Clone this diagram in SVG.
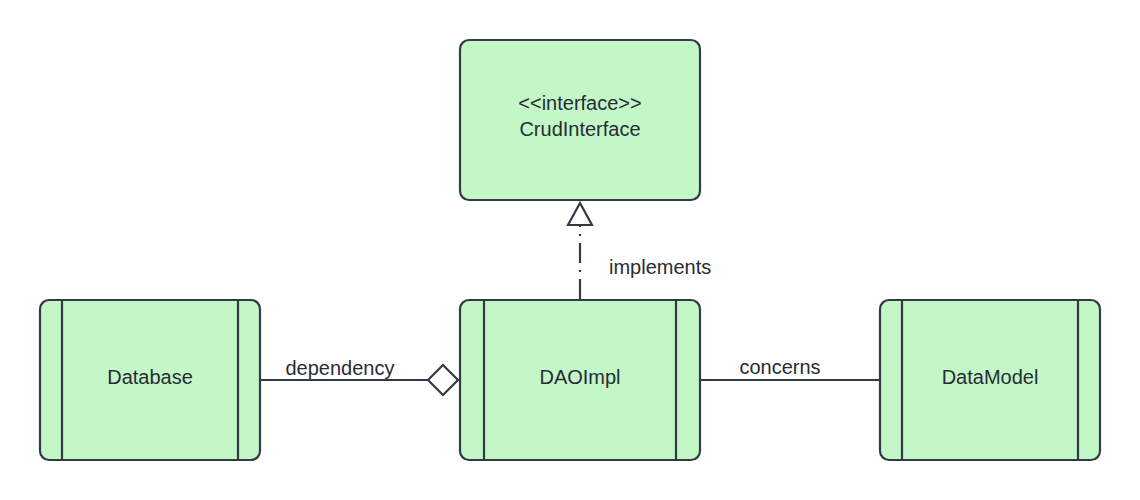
<svg xmlns="http://www.w3.org/2000/svg" width="1140" height="500" viewBox="0 0 1140 500">
<style>
.box{fill:#c3f7c8;stroke:#333a45;stroke-width:2.2}
.bar{stroke:#333a45;stroke-width:2.2;fill:none}
.t{font-family:"Liberation Sans",Arial,sans-serif;font-size:20px;fill:#282c33}
.c{stroke:#333a45;stroke-width:2.2;fill:none}
</style>
<rect width="1140" height="500" fill="#ffffff"/>
<g id="connectors">
<path class="c" d="M261 380H428"/>
<polygon class="c" points="428,380 443,365 458,380 443,395" style="fill:#ffffff"/>
<path class="c" d="M701 380H879"/>
<path class="c" d="M580 299V226" stroke-dasharray="20 7 2 7"/>
<polygon class="c" points="580,203 592,225 568,225" style="fill:#ffffff"/>
<text class="t" x="340" y="375" text-anchor="middle">dependency</text>
<text class="t" x="780" y="374" text-anchor="middle">concerns</text>
<text class="t" x="609" y="274">implements</text>
</g>
<g id="CrudInterface">
<rect class="box" x="460" y="40" width="240" height="160" rx="9"/>
<text class="t" x="580" y="110" text-anchor="middle">&lt;&lt;interface&gt;&gt;</text>
<text class="t" x="580" y="136" text-anchor="middle">CrudInterface</text>
</g>
<g id="Database">
<rect class="box" x="40" y="300" width="220" height="160" rx="9"/>
<path class="bar" d="M62 300V460M238 300V460"/>
<text class="t" x="150" y="384" text-anchor="middle">Database</text>
</g>
<g id="DAOImpl">
<rect class="box" x="460" y="300" width="240" height="160" rx="9"/>
<path class="bar" d="M484 300V460M676 300V460"/>
<text class="t" x="580" y="384" text-anchor="middle">DAOImpl</text>
</g>
<g id="DataModel">
<rect class="box" x="880" y="300" width="220" height="160" rx="9"/>
<path class="bar" d="M902 300V460M1078 300V460"/>
<text class="t" x="990" y="384" text-anchor="middle">DataModel</text>
</g>
</svg>
